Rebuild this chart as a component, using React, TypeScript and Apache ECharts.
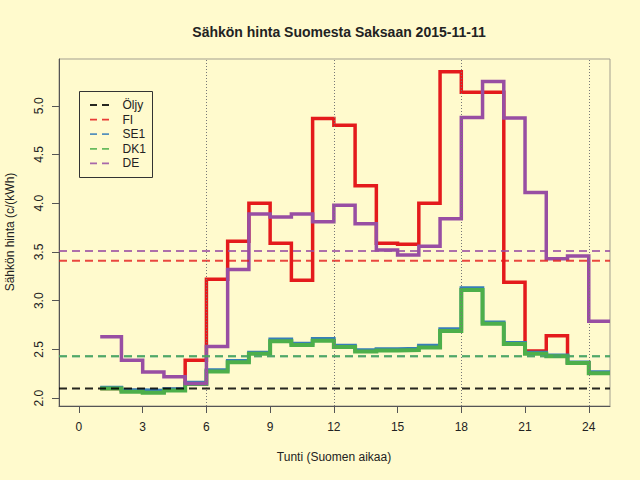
import React, { useEffect, useRef } from "react";
import * as echarts from "echarts";

// Hours 1..24 (step lines extend to hour 25)
const hours = [1, 2, 3, 4, 5, 6, 7, 8, 9, 10, 11, 12, 13, 14, 15, 16, 17, 18, 19, 20, 21, 22, 23, 24];
const fiValues = [2.10, 2.08, 2.07, 2.09, 2.39, 3.22, 3.61, 4.00, 3.59, 3.21, 4.87, 4.80, 4.18, 3.59, 3.58, 4.00, 5.35, 5.14, 5.14, 3.19, 2.485, 2.64, 2.365, 2.26];
const se1Values = [2.11, 2.085, 2.08, 2.095, 2.16, 2.29, 2.385, 2.47, 2.605, 2.56, 2.61, 2.54, 2.495, 2.505, 2.51, 2.54, 2.71, 3.13, 2.78, 2.57, 2.47, 2.44, 2.37, 2.27];
const dk1Values = [2.10, 2.065, 2.055, 2.08, 2.145, 2.275, 2.37, 2.455, 2.585, 2.545, 2.59, 2.525, 2.48, 2.49, 2.495, 2.52, 2.69, 3.11, 2.765, 2.555, 2.455, 2.43, 2.36, 2.255];
const deValues = [2.63, 2.39, 2.27, 2.22, 2.15, 2.53, 3.32, 3.89, 3.86, 3.89, 3.81, 3.98, 3.79, 3.52, 3.47, 3.56, 3.84, 4.88, 5.25, 4.875, 4.11, 3.43, 3.46, 2.79];

// Reference (average) levels
const oilLevel = 2.10;
const fiAvg = 3.41;
const se1Avg = 2.43;
const dk1Avg = 2.43;
const deAvg = 3.51;

const xTickValues = [0, 3, 6, 9, 12, 15, 18, 21, 24];
const yTickValues = [2.0, 2.5, 3.0, 3.5, 4.0, 4.5, 5.0];
const gridHours = [6, 12, 18, 24];

const legendNames = ["Öljy", "FI", "SE1", "DK1", "DE"];
const colors = {
  oil: "#000000",
  fi: "#E41A1C",
  se1: "#377EB8",
  dk1: "#4DAF4A",
  de: "#984EA3",
};
const legendColors = [colors.oil, colors.fi, colors.se1, colors.dk1, colors.de];

const X_MIN = -0.94;
const X_MAX = 25;
const Y_MIN = 1.92;
const Y_MAX = 5.48;

const FONT = "'Liberation Sans', Arial, Helvetica, sans-serif";

function stepData(vals: number[]) {
  const d = hours.map((h, i) => [h, vals[i]]);
  d.push([hours[hours.length - 1] + 1, vals[vals.length - 1]]);
  return d;
}

function stepSeries(name: string, vals: number[], color: string, width: number) {
  return {
    name,
    type: "line",
    step: "end",
    data: stepData(vals),
    symbol: "none",
    lineStyle: { color, width, cap: "butt", join: "miter" },
    z: 3,
  };
}

function levelSeries(name: string, v: number, color: string, opacity: number) {
  return {
    name,
    type: "line",
    data: [[X_MIN, v], [X_MAX, v]],
    symbol: "none",
    lineStyle: { color, width: 2, type: [8, 5], opacity },
    z: 4,
  };
}

export default function App() {
  const ref = useRef<HTMLDivElement>(null);
  useEffect(() => {
    if (!ref.current) return;
    const chart = echarts.init(ref.current, undefined, { renderer: "svg" });
    const legendGraphics: any[] = [
      {
        type: "rect",
        shape: { x: 79.5, y: 91.5, width: 73, height: 86 },
        style: { fill: "none", stroke: "#333", lineWidth: 1 },
        z: 100,
      },
    ];
    legendNames.forEach((n, i) => {
      const y = 105 + i * 14.6;
      legendGraphics.push({
        type: "line",
        shape: { x1: 90, y1: y, x2: 110, y2: y },
        style: { stroke: legendColors[i], lineWidth: 1.8, lineDash: [7, 5], opacity: 0.85 },
        z: 100,
      });
      legendGraphics.push({
        type: "text",
        x: 122.5,
        y: y,
        style: {
          text: n,
          fontSize: 12,
          fontFamily: FONT,
          fill: "#222",
          verticalAlign: "middle",
          align: "left",
        },
        z: 100,
      });
    });

    chart.setOption({
      animation: false,
      backgroundColor: "#FFFACD",
      title: {
        text: "Sähkön hinta Suomesta Saksaan 2015-11-11",
        left: 334,
        top: 20,
        textAlign: "center",
        textStyle: { fontSize: 14, fontWeight: "bold", fontFamily: FONT, color: "#222" },
      },
      grid: {
        left: 59,
        right: 30,
        top: 59,
        bottom: 74,
        show: true,
        borderColor: "#a39f8f",
        borderWidth: 1,
        backgroundColor: "transparent",
      },
      xAxis: {
        type: "value",
        min: X_MIN,
        max: X_MAX,
        axisLine: { show: true, onZero: false, lineStyle: { color: "#555", width: 1 } },
        axisTick: { show: true, length: 7, customValues: xTickValues, lineStyle: { color: "#555" } },
        axisLabel: {
          customValues: xTickValues,
          margin: 15,
          fontSize: 12,
          fontFamily: FONT,
          color: "#222",
        },
        splitLine: { show: false },
      },
      yAxis: {
        type: "value",
        min: Y_MIN,
        max: Y_MAX,
        axisLine: { show: true, onZero: false, lineStyle: { color: "#555", width: 1 } },
        axisTick: { show: true, length: 7, customValues: yTickValues, lineStyle: { color: "#555" } },
        axisLabel: {
          customValues: yTickValues,
          rotate: 90,
          margin: 14,
          fontSize: 12,
          fontFamily: FONT,
          color: "#222",
          formatter: (v: number) => v.toFixed(1),
        },
        splitLine: { show: false },
      },
      graphic: [
        {
          type: "text",
          x: 334,
          y: 457,
          style: {
            text: "Tunti (Suomen aikaa)",
            fontSize: 12,
            fontFamily: FONT,
            fill: "#222",
            align: "center",
            verticalAlign: "middle",
          },
        },
        {
          type: "text",
          x: 10,
          y: 232,
          rotation: Math.PI / 2,
          style: {
            text: "Sähkön hinta (c/(kWh)",
            fontSize: 12,
            fontFamily: FONT,
            fill: "#222",
            align: "center",
            verticalAlign: "middle",
          },
        },
        ...legendGraphics,
      ],
      series: [
        {
          name: "grid",
          type: "line",
          data: [],
          symbol: "none",
          z: 1,
          markLine: {
            silent: true,
            symbol: "none",
            label: { show: false },
            lineStyle: { color: "#777", width: 1, type: [1, 2] },
            data: gridHours.map((h) => ({ xAxis: h })),
          },
        },
        stepSeries("FI", fiValues, colors.fi, 3.5),
        stepSeries("SE1", se1Values, colors.se1, 3.5),
        stepSeries("DK1", dk1Values, colors.dk1, 4),
        stepSeries("DE", deValues, colors.de, 3.5),
        levelSeries("Öljy-taso", oilLevel, colors.oil, 0.85),
        levelSeries("FI-ka", fiAvg, colors.fi, 0.8),
        levelSeries("SE1-ka", se1Avg, colors.se1, 0.8),
        levelSeries("DK1-ka", dk1Avg, colors.dk1, 0.8),
        levelSeries("DE-ka", deAvg, colors.de, 0.8),
      ],
    });
    return () => chart.dispose();
  }, []);
  return (
    <div
      ref={ref}
      style={{ position: "fixed", left: 0, top: 0, width: 640, height: 480 }}
    />
  );
}
